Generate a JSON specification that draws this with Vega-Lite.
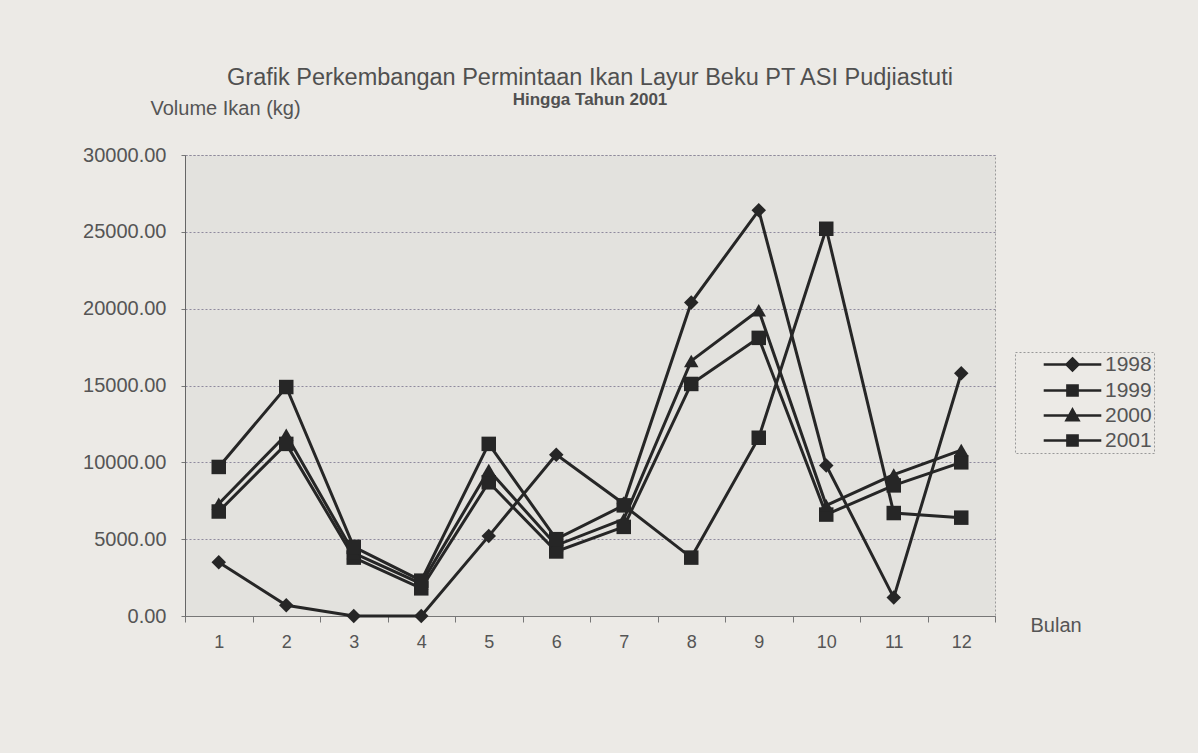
{
  "$schema": "https://vega.github.io/schema/vega-lite/v6.json",
  "autosize": "none",
  "width": 810,
  "height": 461,
  "padding": {"left": 185, "top": 155, "right": 203, "bottom": 137},
  "background": "#eceae6",
  "view": {"fill": "#e3e2de", "stroke": "#9a9a9a", "strokeDash": [2, 2], "strokeWidth": 1},
  "title": {
    "text": "Grafik Perkembangan  Permintaan Ikan Layur Beku PT ASI Pudjiastuti",
    "subtitle": "Hingga Tahun 2001",
    "frame": "group",
    "anchor": "middle",
    "offset": -10,
    "font": "Liberation Sans",
    "fontSize": 23.5,
    "fontWeight": "normal",
    "color": "#505050",
    "subtitleFont": "Liberation Sans",
    "subtitleFontSize": 17,
    "subtitleFontWeight": "bold",
    "subtitleColor": "#505050",
    "subtitlePadding": 3
  },
  "config": {
    "font": "Liberation Sans",
    "axis": {"labelFont": "Liberation Sans", "titleFont": "Liberation Sans", "labelColor": "#555", "titleColor": "#555", "titleFontWeight": "normal"},
    "legend": {"labelFont": "Liberation Sans"}
  },
  "data": {
    "values": [
      {"bulan": 1, "tahun": "1998", "volume": 3500},
      {"bulan": 2, "tahun": "1998", "volume": 700},
      {"bulan": 3, "tahun": "1998", "volume": 0},
      {"bulan": 4, "tahun": "1998", "volume": 0},
      {"bulan": 5, "tahun": "1998", "volume": 5200},
      {"bulan": 6, "tahun": "1998", "volume": 10500},
      {"bulan": 7, "tahun": "1998", "volume": 7300},
      {"bulan": 8, "tahun": "1998", "volume": 20400},
      {"bulan": 9, "tahun": "1998", "volume": 26400},
      {"bulan": 10, "tahun": "1998", "volume": 9800},
      {"bulan": 11, "tahun": "1998", "volume": 1200},
      {"bulan": 12, "tahun": "1998", "volume": 15800},
      {"bulan": 1, "tahun": "1999", "volume": 6800},
      {"bulan": 2, "tahun": "1999", "volume": 11200},
      {"bulan": 3, "tahun": "1999", "volume": 3800},
      {"bulan": 4, "tahun": "1999", "volume": 1800},
      {"bulan": 5, "tahun": "1999", "volume": 8700},
      {"bulan": 6, "tahun": "1999", "volume": 4200},
      {"bulan": 7, "tahun": "1999", "volume": 5800},
      {"bulan": 8, "tahun": "1999", "volume": 15100},
      {"bulan": 9, "tahun": "1999", "volume": 18100},
      {"bulan": 10, "tahun": "1999", "volume": 6600},
      {"bulan": 11, "tahun": "1999", "volume": 8500},
      {"bulan": 12, "tahun": "1999", "volume": 10000},
      {"bulan": 1, "tahun": "2000", "volume": 7300},
      {"bulan": 2, "tahun": "2000", "volume": 11800},
      {"bulan": 3, "tahun": "2000", "volume": 4100},
      {"bulan": 4, "tahun": "2000", "volume": 2100},
      {"bulan": 5, "tahun": "2000", "volume": 9500},
      {"bulan": 6, "tahun": "2000", "volume": 4600},
      {"bulan": 7, "tahun": "2000", "volume": 6300},
      {"bulan": 8, "tahun": "2000", "volume": 16600},
      {"bulan": 9, "tahun": "2000", "volume": 19900},
      {"bulan": 10, "tahun": "2000", "volume": 7200},
      {"bulan": 11, "tahun": "2000", "volume": 9200},
      {"bulan": 12, "tahun": "2000", "volume": 10800},
      {"bulan": 1, "tahun": "2001", "volume": 9700},
      {"bulan": 2, "tahun": "2001", "volume": 14900},
      {"bulan": 3, "tahun": "2001", "volume": 4500},
      {"bulan": 4, "tahun": "2001", "volume": 2300},
      {"bulan": 5, "tahun": "2001", "volume": 11200},
      {"bulan": 6, "tahun": "2001", "volume": 5000},
      {"bulan": 7, "tahun": "2001", "volume": 7200},
      {"bulan": 8, "tahun": "2001", "volume": 3800},
      {"bulan": 9, "tahun": "2001", "volume": 11600},
      {"bulan": 10, "tahun": "2001", "volume": 25200},
      {"bulan": 11, "tahun": "2001", "volume": 6700},
      {"bulan": 12, "tahun": "2001", "volume": 6400}
    ]
  },
  "encoding": {
    "x": {
      "field": "bulan",
      "type": "ordinal",
      "scale": {"type": "band", "paddingInner": 0, "paddingOuter": 0},
      "axis": {
        "title": "Bulan",
        "titleX": 845,
        "titleY": 9,
        "titleAlign": "left",
        "titleBaseline": "middle",
        "titleFontSize": 20,
        "labelAngle": 0,
        "labelFontSize": 18,
        "labelPadding": 11,
        "tickBand": "extent",
        "tickSize": 6,
        "tickColor": "#777",
        "domainColor": "#777",
        "grid": false
      }
    },
    "y": {
      "field": "volume",
      "type": "quantitative",
      "scale": {"domain": [0, 30000], "nice": false},
      "axis": {
        "title": "Volume Ikan (kg)",
        "titleAngle": 0,
        "titleX": -35,
        "titleY": -47,
        "titleAlign": "left",
        "titleBaseline": "middle",
        "titleFontSize": 20,
        "values": [0, 5000, 10000, 15000, 20000, 25000, 30000],
        "format": ".2f",
        "labelFontSize": 20,
        "labelPadding": 15,
        "tickSize": 4,
        "tickColor": "#777",
        "domainColor": "#666",
        "grid": true,
        "gridColor": "#8f8a9e",
        "gridDash": [2, 2],
        "gridWidth": 1
      }
    }
  },
  "layer": [
    {
      "mark": {"type": "line", "strokeWidth": 3},
      "encoding": {
        "color": {
          "field": "tahun",
          "type": "nominal",
          "scale": {"domain": ["1998", "1999", "2000", "2001"], "range": ["#262626", "#262626", "#262626", "#262626"]},
          "legend": {
            "title": null,
            "orient": "none",
            "legendX": 830,
            "legendY": 197,
            "padding": 2,
            "strokeColor": "#999",
            "fillColor": "#eceae6",
            "symbolType": "square",
            "symbolSize": 144,
            "symbolOffset": 45,
            "labelOffset": 22,
            "labelFontSize": 21,
            "labelColor": "#555",
            "rowPadding": 3,
            "symbolStrokeWidth": 2.5,
            "encode": {
              "legend": {"update": {"strokeDash": {"value": [2, 2]}}},
              "symbols": {
                "update": {
                  "shape": {"signal": "datum.value === '1998' ? 'M-4.8,0H4.8M0,-1L1,0L0,1L-1,0Z' : datum.value === '2000' ? 'M-4.8,0H4.8M0,-1L1,0.8H-1Z' : 'M-4.8,0H4.8M-0.85,-0.85H0.85V0.85H-0.85Z'"},
                  "fill": {"value": "#262626"},
                  "stroke": {"value": "#262626"},
                  "strokeWidth": {"value": 2.5}
                }
              }
            }
          }
        }
      }
    },
    {
      "mark": {"type": "point", "filled": true, "opacity": 1, "color": "#262626", "size": 210},
      "encoding": {
        "shape": {
          "condition": [
            {"test": "datum.tahun === '1998'", "value": "diamond"},
            {"test": "datum.tahun === '2000'", "value": "triangle-up"}
          ],
          "value": "square"
        }
      }
    }
  ]
}
